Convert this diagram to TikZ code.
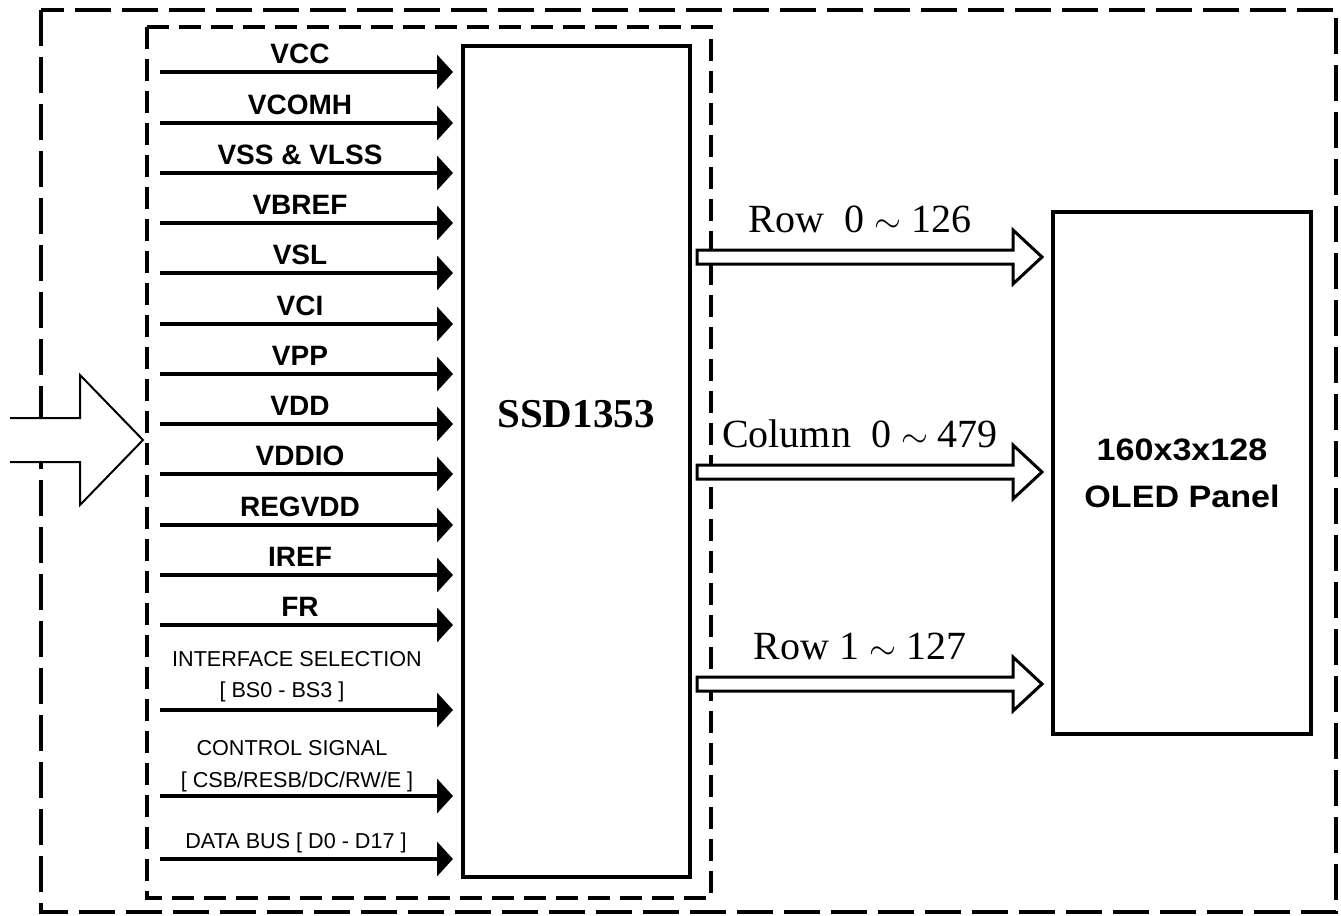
\documentclass[tikz,border=0pt]{standalone}
\usepackage{fontspec}
\setmainfont{Liberation Sans}
\newfontfamily\timesfont{Liberation Serif}
\usepackage{graphicx}
\usetikzlibrary{arrows.meta,calc,positioning}

\newcommand{\smalltilde}{{\fontsize{17}{17}\selectfont$\sim$}}

\tikzset{
  outerdash/.style={line width=2pt,dash pattern=on 18pt off 5.5pt},
  innerdash/.style={line width=2pt,dash pattern=on 11pt off 5pt},
  blockbox/.style={draw,line width=2pt,inner sep=0pt},
  sig/.style={line width=2pt,-{Triangle[length=8pt,width=17pt]},shorten >=4pt},
  siglabel/.style={font=\fontsize{14}{16}\selectfont\bfseries,anchor=base,inner sep=0pt},
  smalllabel/.style={font=\fontsize{10.8}{13}\selectfont,anchor=base,inner sep=0pt},
  bus/.style={line width=1.5pt,fill=white,line join=miter},
  buslabel/.style={font=\timesfont\fontsize{20}{22}\selectfont,anchor=base,inner sep=0pt},
  panellabel/.style={font=\fontsize{15.5}{18}\selectfont\bfseries,anchor=base,inner sep=0pt}
}

\begin{document}
\begin{tikzpicture}[x=0.5pt,y=-0.5pt,>=Latex]
 \useasboundingbox (0,0) rectangle (1341,916);
 % module and driver boundaries
 \draw[outerdash] (41,10) rectangle (1336,912);
 \draw[innerdash] (147,27) rectangle (711,898);

 \node[blockbox,minimum width=113.5pt,minimum height=415.5pt] (chip) at (576.5,461.5) {};
 \node[font=\timesfont\fontsize{20.5}{22}\selectfont\bfseries] (chipname) at (576,414) {SSD1353};
 \node[blockbox,minimum width=129pt,minimum height=261pt] (panel) at (1182,473) {};
 \node[panellabel] (panel1) at (1182,460) {\scalebox{1.1}[1]{160x3x128}};
 \node[panellabel] (panel2) at (1182,507) {\scalebox{1.1}[1]{OLED Panel}};

 % supply and control inputs
 \foreach \y/\txt [count=\i] in {72/VCC,123/VCOMH,173/VSS \& VLSS,223/VBREF,273/VSL,
   324/VCI,374/VPP,424/VDD,474/VDDIO,525/REGVDD,575/IREF,625/FR}{
  \coordinate (in\i) at (160,\y);
  \draw[sig] (in\i) -- (in\i -| chip.west);
  \node[siglabel] (lab\i) at ($(in\i)+(140,-9)$) {\txt};
 }
 \coordinate (in13) at (160,710);
 \coordinate (in14) at (160,796);
 \coordinate (in15) at (160,859);
 \foreach \i in {13,14,15}
  \draw[sig] (in\i) -- (in\i -| chip.west);
 \node[smalllabel] (ifsel) at (297,666) {INTERFACE SELECTION};
 \node[smalllabel] (ifpins) at (282,697) {[ BS0 - BS3 ]};
 \node[smalllabel] (ctrl) at (292,755) {CONTROL SIGNAL};
 \node[smalllabel] (ctrlpins) at (297,787) {[ CSB/RESB/DC/RW/E ]};
 \node[smalllabel] (dbus) at (296,848) {DATA BUS [ D0 - D17 ]};

 % MCU input
 \draw[line width=1pt,fill=white] (10,418) -- (80,418) -- (80,375) -- (143,440)
   -- (80,505) -- (80,462) -- (10,462);

 % outputs to panel
 \foreach \y/\txt [count=\k] in {257/{Row\enspace 0 \smalltilde{} 126},
   472/{Column\enspace 0 \smalltilde{} 479},684/{Row 1 \smalltilde{} 127}}{
  \coordinate (bs\k) at (697,\y);
  \coordinate (be\k) at (panel.west |- bs\k);
  \draw[bus] ($(bs\k)+(0,-7)$) -- ($(be\k)+(-38,-7)$) -- ($(be\k)+(-38,-27)$)
    -- ($(be\k)+(-9,0)$) -- ($(be\k)+(-38,27)$) -- ($(be\k)+(-38,7)$)
    -- ($(bs\k)+(0,7)$) -- cycle;
  \node[buslabel] (bl\k) at ($(bs\k)+(163,-25)$) {\txt};
 }
\end{tikzpicture}
\end{document}
